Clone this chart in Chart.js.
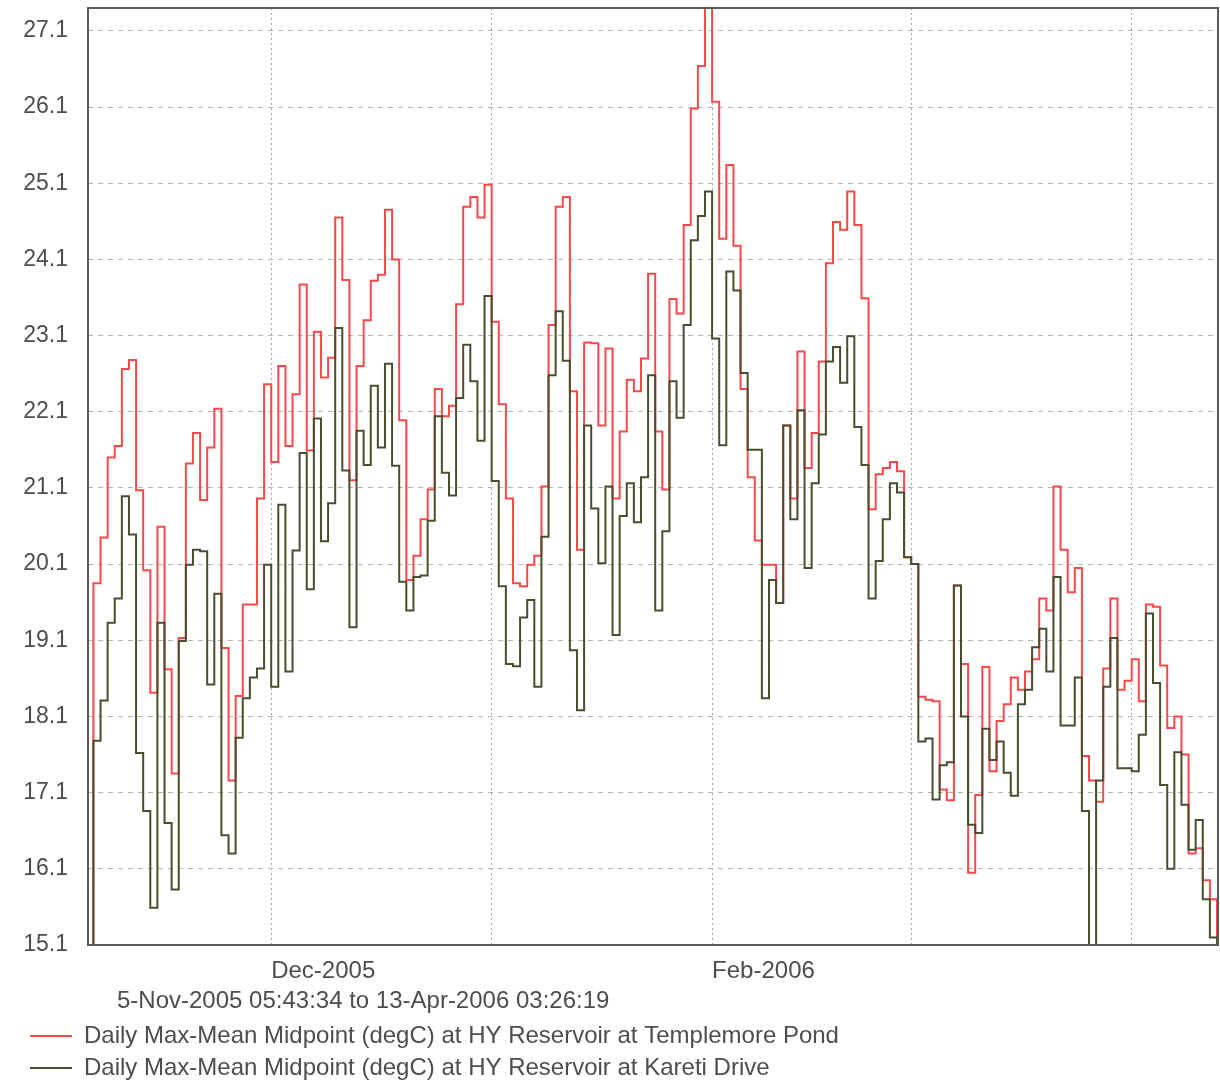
<!DOCTYPE html>
<html>
<head>
<meta charset="utf-8">
<script src="https://cdn.jsdelivr.net/npm/chart.js@4.4.1/dist/chart.umd.min.js"></script>
<style>
  html, body { margin: 0; padding: 0; background: #fff; overflow: hidden; }
  canvas { display: block; }
</style>
</head>
<body>
<canvas id="js-temp-chart" width="1220" height="1090"></canvas>
<script>
// days counted from 1-Nov-2005 00:00
var rangeStart = 4.24      // 5-Nov-2005 05:43:34
var rangeEnd = 163.14      // 13-Apr-2006 03:26:19
var firstFullDay = 5       // 6-Nov-2005
var rangeText = "5-Nov-2005 05:43:34 to 13-Apr-2006 03:26:19"

var monthTicks = [30, 61, 92, 120, 151]
var monthLabels = ["Dec-2005", "", "Feb-2006", "", ""]
var yTicks = [15.1, 16.1, 17.1, 18.1, 19.1, 20.1, 21.1, 22.1, 23.1, 24.1, 25.1, 26.1, 27.1]

// first value is the partial day 5-Nov, the rest one per day from 6-Nov to 13-Apr
var templemore = [14.5,
  19.85, 20.45, 21.5, 21.65, 22.66, 22.78, 21.07, 20.02, 18.41, 20.59,
  18.72, 17.35, 19.13, 21.42, 21.82, 20.94, 21.63, 22.14, 19.0, 17.26,
  18.37, 19.57, 19.57, 20.96, 22.46, 21.44, 22.7, 21.65, 22.33, 23.77,
  21.59, 23.15, 22.55, 22.81, 24.65, 23.83, 21.2, 22.7, 23.3, 23.82,
  23.9, 24.75, 24.1, 21.99, 19.89, 20.21, 20.69, 21.08, 22.4, 22.04,
  22.18, 23.51, 24.79, 24.92, 24.65, 25.08, 23.28, 22.2, 20.96, 19.85,
  19.81, 20.09, 20.21, 21.12, 23.24, 24.79, 24.92, 22.37, 20.29, 23.01,
  23.0, 21.92, 22.93, 20.96, 21.84, 22.52, 22.37, 22.8, 23.91, 21.84,
  21.08, 23.58, 23.39, 24.55, 26.08, 26.64, 27.7, 26.17, 24.37, 25.34,
  24.28, 22.4, 21.24, 20.41, 20.09, 20.09, 19.59, 21.92, 20.96, 22.89,
  21.36, 21.82, 22.76, 24.05, 24.59, 24.49, 24.99, 24.55, 23.59, 20.82,
  21.28, 21.36, 21.44, 21.32, 20.19, 20.1, 18.36, 18.32, 18.3, 17.14,
  17.0, 19.82, 18.79, 16.05, 17.07, 18.75, 17.38, 18.04, 18.26, 18.61,
  18.45, 18.69, 18.85, 19.65, 19.49, 21.12, 20.29, 19.73, 20.05, 17.58,
  17.26, 16.98, 18.73, 19.65, 18.45, 18.57, 18.85, 18.3, 19.57, 19.54,
  18.77, 17.95, 18.1, 17.6, 16.3, 16.37, 15.95, 15.7, 14.5]

var kareti = [14.5,
  17.78, 18.31, 19.33, 19.65, 20.99, 20.49, 17.62, 16.86, 15.59, 19.33,
  16.7, 15.83, 19.09, 20.09, 20.29, 20.27, 18.52, 19.71, 16.54, 16.3,
  17.82, 18.34, 18.61, 18.73, 20.09, 18.49, 20.88, 18.69, 20.28, 21.56,
  19.77, 22.01, 20.4, 20.9, 23.2, 21.33, 19.27, 21.85, 21.4, 22.44,
  21.63, 22.73, 21.39, 19.87, 19.49, 19.93, 19.95, 20.67, 22.04, 21.3,
  21.0, 22.28, 22.98, 22.5, 21.72, 23.62, 21.19, 19.81, 18.79, 18.76,
  19.4, 19.63, 18.49, 20.46, 22.58, 23.42, 22.77, 18.97, 18.18, 21.92,
  20.83, 20.11, 21.12, 19.17, 20.73, 21.16, 20.65, 21.24, 22.58, 19.49,
  20.53, 22.5, 22.02, 23.24, 24.35, 24.67, 24.99, 23.06, 21.66, 23.94,
  23.69, 22.61, 21.6, 21.6, 18.34, 19.89, 19.59, 21.92, 20.69, 22.12,
  20.05, 21.16, 21.8, 22.76, 22.95, 22.48, 23.09, 21.9, 21.4, 19.65,
  20.14, 20.69, 21.16, 21.04, 20.19, 20.1, 17.77, 17.81, 17.01, 17.46,
  17.5, 19.82, 18.1, 16.68, 16.57, 17.94, 17.53, 17.77, 17.36, 17.06,
  18.26, 18.45, 19.01, 19.25, 18.69, 19.93, 17.98, 17.98, 18.61, 16.86,
  14.5, 17.26, 18.49, 19.13, 17.42, 17.42, 17.38, 17.86, 19.45, 18.54,
  17.2, 16.1, 17.63, 16.94, 16.35, 16.74, 15.7, 15.2, 14.5]

function toSteps(values) {
  var pts = values.map(function (v, i) {
    return { x: i === 0 ? rangeStart : firstFullDay + i - 1, y: v }
  })
  pts.push({ x: rangeEnd, y: values[values.length - 1] })
  return pts
}

Chart.defaults.font.family = '"Liberation Sans", Arial, sans-serif'
Chart.defaults.color = "#4d4d4d"

var framePlugin = {
  id: "frame",
  afterDraw: function (chart) {
    var a = chart.chartArea
    var c = chart.ctx
    c.save()
    c.strokeStyle = "#5a5a5a"
    c.lineWidth = 2
    c.strokeRect(a.left, a.top, a.right - a.left, a.bottom - a.top)
    c.font = '24px "Liberation Sans", Arial, sans-serif'
    c.fillStyle = "#4d4d4d"
    c.textBaseline = "middle"
    c.fillText(rangeText, 117, a.bottom + 56)
    c.restore()
  }
}

function noPadding(scale) {
  scale.paddingTop = 0
  scale.paddingBottom = 0
  scale.paddingLeft = 0
  scale.paddingRight = 0
}

var ctx = document.getElementById("js-temp-chart")

var chart = new Chart(ctx,
  {
    type: "line",
    data: {
      datasets: [
        {
          label: "Daily Max-Mean Midpoint (degC) at HY Reservoir at Templemore Pond",
          data: toSteps(templemore),
          borderColor: "rgb(250, 72, 72)",
          borderWidth: 2,
          stepped: true,
          pointRadius: 0,
          order: 1
        },
        {
          label: "Daily Max-Mean Midpoint (degC) at HY Reservoir at Kareti Drive",
          data: toSteps(kareti),
          borderColor: "rgb(72, 78, 46)",
          borderWidth: 2,
          stepped: true,
          pointRadius: 0,
          order: 0
        }
      ]
    },
    options: {
      responsive: false,
      animation: false,
      layout: {
        padding: { left: 22, right: 2, top: 8, bottom: 0 }
      },
      scales: {
        x: {
          type: "linear",
          min: rangeStart,
          max: rangeEnd,
          afterBuildTicks: function (scale) {
            scale.ticks = monthTicks.map(function (v) { return { value: v } })
          },
          afterFit: function (scale) {
            scale.height = 71
            noPadding(scale)
          },
          ticks: {
            autoSkip: false,
            maxRotation: 0,
            align: "start",
            padding: 12,
            font: { size: 24 },
            callback: function (value, index) { return monthLabels[index] }
          },
          grid: { color: "#a8a8a8", lineWidth: 1, drawTicks: false },
          border: { display: false, dash: [2, 3] }
        },
        y: {
          min: 15.1,
          max: 27.4,
          afterBuildTicks: function (scale) {
            scale.ticks = yTicks.map(function (v) { return { value: v } })
          },
          afterFit: function (scale) {
            scale.width = 66
            noPadding(scale)
          },
          ticks: {
            padding: 20,
            font: { size: 23 },
            callback: function (value) { return value.toFixed(1) }
          },
          grid: { color: "#b4b4b4", lineWidth: 1, drawTicks: false },
          border: { display: false, dash: [5, 5] }
        }
      },
      plugins: {
        legend: {
          display: true,
          position: "bottom",
          align: "start",
          labels: {
            usePointStyle: true,
            pointStyle: "line",
            pointStyleWidth: 42,
            padding: 8,
            font: { size: 24 },
            color: "#4d4d4d",
            sort: function (a, b) { return a.datasetIndex - b.datasetIndex }
          }
        },
        tooltip: { enabled: false }
      }
    },
    plugins: [framePlugin]
  })
</script>
</body>
</html>
